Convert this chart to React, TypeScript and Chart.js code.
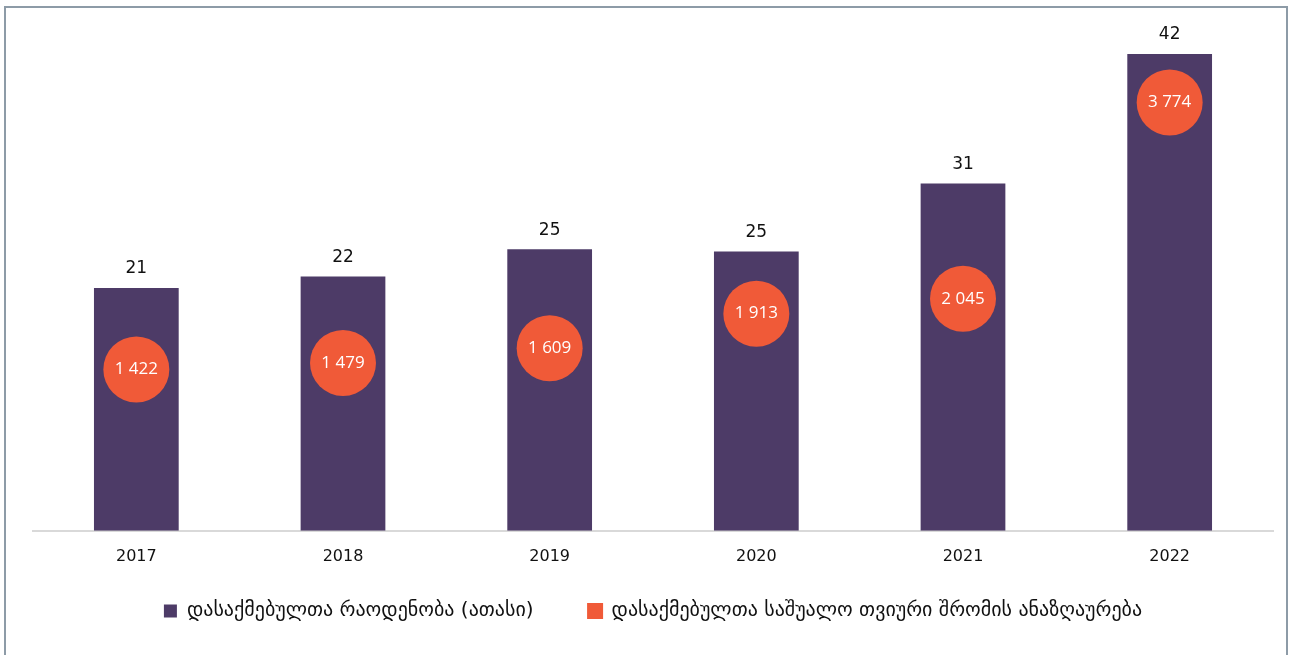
import React, { useEffect, useRef } from "react";
import { Chart, registerables } from "chart.js";

Chart.register(...registerables);

const years = ["2017", "2018", "2019", "2020", "2021", "2022"];
const employees = [21.4, 22.4, 24.8, 24.6, 30.6, 42.0];
const wages = [1422, 1479, 1609, 1913, 2045, 3774];
const seriesNames = [
  "დასაქმებულთა რაოდენობა (ათასი)",
  "დასაქმებულთა საშუალო თვიური შრომის ანაზღაურება",
];

const PURPLE = "#4d3b67";
const ORANGE = "#f05a38";
const FONT = "'DejaVu Sans', sans-serif";
const LEGEND_SHIFT = 28;

const fmt = (v: number) => String(v).replace(/\B(?=(\d{3})+(?!\d))/g, " ");

const labelPlugin = {
  id: "valueLabels",
  afterLayout(chart: any) {
    const lg = chart.legend;
    if (lg) {
      lg.top -= LEGEND_SHIFT;
      lg.bottom -= LEGEND_SHIFT;
    }
  },
  afterDatasetsDraw(chart: any) {
    const ctx = chart.ctx;
    ctx.save();
    ctx.textAlign = "center";
    ctx.textBaseline = "middle";
    const barMeta = chart.getDatasetMeta(0);
    ctx.fillStyle = "#111";
    ctx.font = `17px ${FONT}`;
    barMeta.data.forEach((el: any, i: number) => {
      ctx.fillText(String(Math.round(employees[i])), el.x, el.y - 19);
    });
    const ptMeta = chart.getDatasetMeta(1);
    ctx.fillStyle = "#fff";
    ctx.font = `17px 'Open Sans', sans-serif`;
    ptMeta.data.forEach((el: any, i: number) => {
      ctx.fillText(fmt(wages[i]), el.x, el.y);
    });
    ctx.restore();
  },
};

export default function App() {
  const ref = useRef<HTMLCanvasElement>(null);
  useEffect(() => {
    document.body.style.margin = "0";
    const chart = new Chart(ref.current!, {
      type: "bar",
      data: {
        labels: years,
        datasets: [
          {
            type: "bar",
            label: seriesNames[0],
            data: employees,
            backgroundColor: PURPLE,
            borderColor: PURPLE,
            categoryPercentage: 1,
            barPercentage: 0.41,
            yAxisID: "y",
            order: 2,
          },
          {
            type: "line",
            label: seriesNames[1],
            data: wages,
            showLine: false,
            backgroundColor: ORANGE,
            borderColor: ORANGE,
            pointRadius: 33,
            pointHoverRadius: 33,
            pointBorderWidth: 0,
            yAxisID: "y2",
            order: 1,
          },
        ] as any,
      },
      options: {
        animation: false,
        responsive: false,
        layout: { autoPadding: false, padding: { left: 33, right: 17, top: 20, bottom: -4 } },
        plugins: {
          tooltip: { enabled: false },
          legend: {
            position: "bottom",
            labels: {
              sort: (a: any, b: any) => a.datasetIndex - b.datasetIndex,
              boxWidth: 13,
              boxHeight: 13,
              padding: 55,
              color: "#111",
              font: { family: FONT, size: 20 },
            },
          },
        },
        scales: {
          x: {
            grid: { display: false },
            border: { display: true, color: "#d9d9d9", width: 2 },
            ticks: { color: "#111", font: { family: FONT, size: 16 }, padding: 8 },
          },
          y: { display: false, min: 0, max: 45 },
          y2: { display: false, min: 0, max: 4500, position: "right" },
        },
      },
      plugins: [labelPlugin],
    });
    return () => chart.destroy();
  }, []);
  return (
    <div style={{ position: "relative", width: 1290, height: 655, overflow: "hidden", background: "#fff" }}>
      <div
        style={{
          position: "absolute",
          left: 4,
          top: 6,
          width: 1284,
          height: 700,
          border: "2px solid #8d9ba7",
          boxSizing: "border-box",
        }}
      />
      <canvas ref={ref} width={1290} height={655} style={{ position: "absolute", left: 0, top: 0 }} />
    </div>
  );
}
